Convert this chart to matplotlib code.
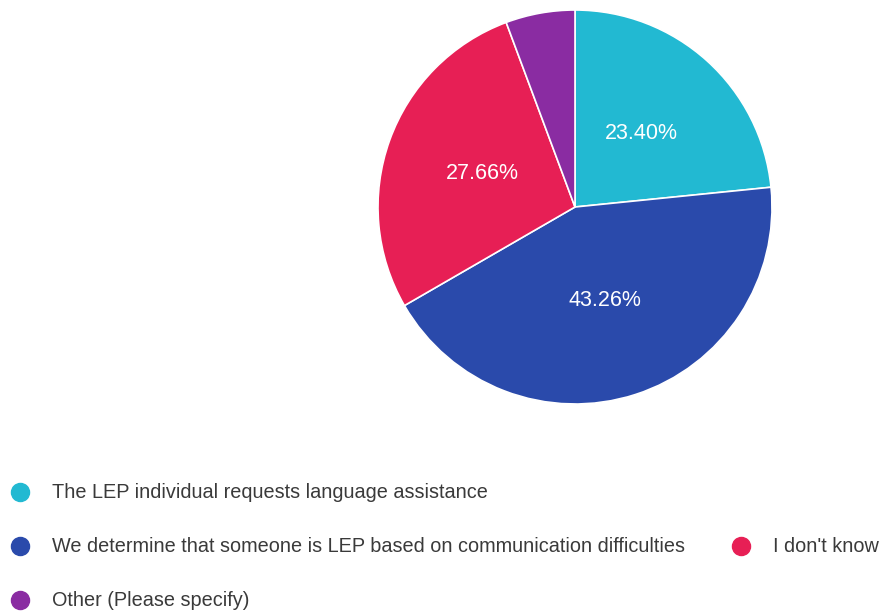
import matplotlib
matplotlib.use("Agg")
import matplotlib.pyplot as plt
from matplotlib.lines import Line2D

categories = [
    "The LEP individual requests language assistance",
    "We determine that someone is LEP based on communication difficulties",
    "I don't know",
    "Other (Please specify)",
]
shares = [23.40, 43.26, 27.66, 5.68]
colors = ["#22B9D2", "#2A4AAB", "#E71F55", "#8A2CA2"]

W, H = 884, 611
fig = plt.figure(figsize=(W / 100, H / 100), dpi=100)
plt.rcParams["font.family"] = ["Liberation Sans", "DejaVu Sans"]

# Pie placed by pixel box
cx, cy, r = 575, 207, 197
ax = fig.add_axes([(cx - r) / W, (H - cy - r) / H, 2 * r / W, 2 * r / H])


def fmt(p):
    return f"{p:.2f}%" if p >= 10 else ""


wedges, _, autotexts = ax.pie(
    shares,
    colors=colors,
    startangle=90,
    counterclock=False,
    autopct=fmt,
    pctdistance=0.5,
    wedgeprops=dict(edgecolor="white", linewidth=1.2),
    textprops=dict(color="white", fontsize=15.5),
)
ax.set_xlim(-1, 1)
ax.set_ylim(-1, 1)
ax.set_aspect("equal")
ax.axis("off")

# Legend laid out as flowing rows
items = [
    (0, 20, 492),
    (1, 20, 546),
    (2, 741, 546),
    (3, 20, 600),
]
for idx, x, y in items:
    fig.add_artist(Line2D([x / W], [1 - y / H], marker="o", markersize=13,
                          color=colors[idx], linestyle="none",
                          transform=fig.transFigure))
    fig.text((x + 32) / W, 1 - y / H, categories[idx], fontsize=14.3,
             color="#3a3a3a", va="center", ha="left")

fig.savefig("out.png", dpi=100)
